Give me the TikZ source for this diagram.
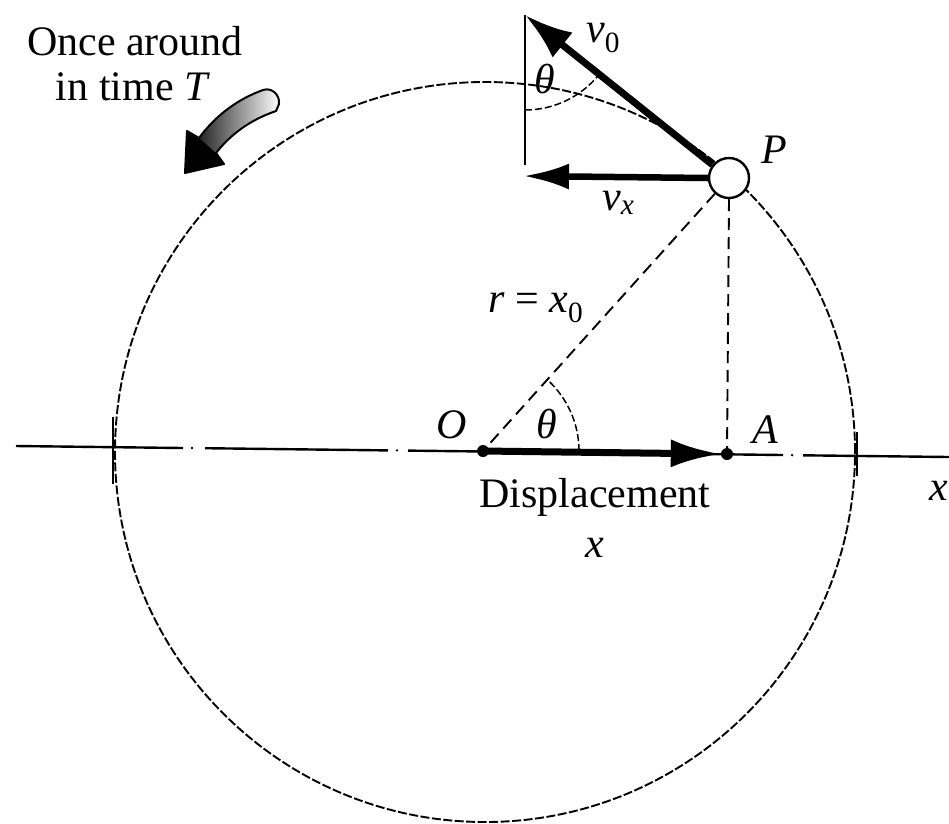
\documentclass[tikz,border=0pt]{standalone}
\usepackage{fontspec}
\setmainfont{Liberation Serif}
\usetikzlibrary{arrows.meta}
\begin{document}
\begin{tikzpicture}[x=1pt,y=-1pt,
  font=\fontsize{42}{48}\selectfont,
  circ/.style={line width=1.9pt, dash pattern=on 9pt off 2.5pt},
  axisl/.style={line width=2.4pt},
  dashl/.style={line width=1.9pt, dash pattern=on 12pt off 7pt},
  anglearc/.style={line width=1.5pt, dash pattern=on 7pt off 3pt},
  bigarrow/.style={line width=7pt, -{Latex[length=50pt,width=28pt]}},
  dotnode/.style={circle, fill=black, inner sep=0pt, minimum size=12pt},
  lbl/.style={anchor=base, inner sep=0pt},
  lblw/.style={anchor=base west, inner sep=0pt}]
\useasboundingbox (0,0) rectangle (949,823);
% reference circle
\coordinate (C) at (485,452);
\draw[circ] (C) circle[radius=370pt];
\draw[axisl] (113,417) -- (113,484);
\draw[axisl] (857,432) -- (857,476);
% x axis (centre line)
\draw[axisl] (16,446) -- (183,448);
\draw[axisl] (205,448.2) -- (388,450.4);
\draw[axisl] (408,450.6) -- (783,455);
\draw[axisl] (803,455.3) -- (949,457);
\fill (192,448) circle[radius=1.3pt];
\fill (397,450.4) circle[radius=1.3pt];
\fill (792,455.2) circle[radius=1.3pt];
% points
\node[dotnode] (O) at (483,451) {};
\node[dotnode] (A) at (727,454) {};
\node[circle, draw, fill=white, line width=2.4pt, minimum size=40pt, inner sep=0pt] (P) at (729,178) {};
\coordinate (T) at (525,15);
\coordinate (B) at (525,165);
\coordinate (V) at (523,176);
% dashed lines
\draw[dashl] (P) -- (O);
\draw[dashl] (P.south) -- (A);
% angle at O
\draw[anglearc] (O.center) ++(96pt,0pt) arc[start angle=0, end angle=48, radius=96pt];
% displacement arrow
\draw[bigarrow] (O.center) -- (A.west);
% velocity triangle
\draw[line width=2.4pt] (T) -- (B);
\draw[anglearc] (T) ++(0pt,-95pt) arc[start angle=-90, end angle=-38.6, radius=95pt];
\draw[line width=7pt, -{Latex[length=48pt,width=32pt]}] (P) -- (T);
\draw[line width=6.5pt, -{Latex[length=46pt,width=26pt]}] (P.west) -- (V);
% labels
\node[lbl] (tO) at (452,438) {\textit{O}};
\node[lbl] (tA) at (765,443) {\textit{A}};
\node[lbl] (tP) at (774,163) {\textit{P}};
\node[lbl] (tth) at (547,438) {\textit{θ}};
\node[lbl] (tth2) at (545,93) {\textit{θ}};
\node[lbl] (tdisp) at (595,507) {Displacement};
\node[lbl] (tx) at (595,557) {\textit{x}};
\node[lblw] (tr) at (488,312) {\textit{r} = \textit{x}\textsubscript{0}};
\node[lblw] (tv0) at (586,42) {\textit{v}\textsubscript{0}};
\node[lblw] (tvx) at (602,210) {\textit{v}\textsubscript{\textit{x}}};
\node[lblw] (txax) at (929,500) {\textit{x}};
\node[lbl] (tonce) at (135,55) {Once around};
\node[lbl] (ttime) at (133,100) {in time \textit{T}};
% curved rotation arrow
\path[left color=black, right color=white]
  (199,138) .. controls (216,115) and (238,99) .. (263,90)
  .. controls (272,87) and (280,95) .. (279,104)
  -- (276,111)
  .. controls (250,120) and (231,134) .. (216,153)
  -- (224,164) -- (185,173) -- (187,131) -- cycle;
\fill (187,131) -- (199,138) -- (216,153) -- (224,164) -- (185,173) -- cycle;
\draw[line width=2pt, line join=round]
  (199,138) .. controls (216,115) and (238,99) .. (263,90)
  .. controls (272,87) and (280,95) .. (279,104)
  -- (276,111)
  .. controls (250,120) and (231,134) .. (216,153)
  -- (224,164) -- (185,173) -- (187,131) -- cycle;
\end{tikzpicture}
\end{document}
